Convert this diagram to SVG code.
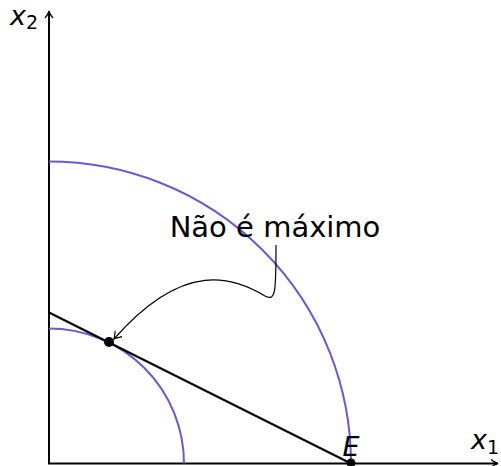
<svg xmlns="http://www.w3.org/2000/svg" width="501" height="466" viewBox="0 0 501 466">
<style>
.ax{stroke:#000;stroke-width:2;fill:none}
.arc{stroke:#6a5acd;stroke-width:2;fill:none}
.lbl{font-family:"DejaVu Sans",sans-serif;fill:#000}
.it{font-style:oblique}
</style>
<defs>
<marker id="tip" viewBox="-8 -5 10 10" markerWidth="10" markerHeight="10" refX="0" refY="0" orient="auto" markerUnits="userSpaceOnUse">
<path d="M-7,-4.5 Q-2,-1 0,0 Q-2,1 -7,4.5" fill="none" stroke="#000" stroke-width="1.2"/>
</marker>
</defs>
<rect width="501" height="466" fill="#fff"/>
<g id="axes">
<line class="ax" x1="49" y1="463.5" x2="49" y2="12"/>
<path d="M45,18 Q48,15 49,11 Q50,15 53,18" fill="none" stroke="#000" stroke-width="1.3"/>
<line class="ax" x1="48" y1="463.5" x2="497" y2="463.5"/>
<path d="M491,459.5 Q494,462.5 498,463.5 Q494,464.5 491,467.5" fill="none" stroke="#000" stroke-width="1.3"/>
<text class="lbl" x="10" y="25" font-size="27"><tspan class="it">x</tspan><tspan font-size="19" dy="4.3">2</tspan></text>
<text class="lbl" x="471" y="449" font-size="27"><tspan class="it">x</tspan><tspan font-size="19" dy="5">1</tspan></text>
</g>
<g id="big-curve">
<path class="arc" d="M49,161.5 A302,302 0 0 1 351,463.5"/>
</g>
<g id="small-curve">
<path class="arc" d="M49,328.5 A135,135 0 0 1 184,463.5"/>
</g>
<g id="budget-line">
<line x1="49" y1="312.5" x2="351" y2="463.5" stroke="#000" stroke-width="2"/>
</g>
<g id="point-tangent">
<circle cx="109" cy="342" r="5" fill="#000"/>
</g>
<g id="point-E">
<circle cx="351" cy="463" r="4.5" fill="#000"/>
<text class="lbl it" x="351" y="456" font-size="27" text-anchor="middle">E</text>
</g>
<g id="label">
<text class="lbl" x="275" y="237" font-size="29" text-anchor="middle">Não é máximo</text>
</g>
<g id="connectors">
<path d="M276,245 C276,290 276,302 265,296 C235,278 185,258 114,339" fill="none" stroke="#000" stroke-width="1.2" marker-end="url(#tip)"/>
</g>
</svg>
